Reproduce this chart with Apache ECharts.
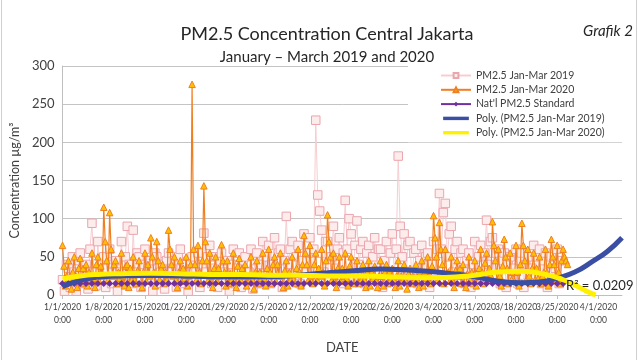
<!DOCTYPE html>
<html><head><meta charset="utf-8">
<script src="https://cdn.jsdelivr.net/npm/echarts@6/dist/echarts.min.js"></script>
<style>html,body{margin:0;padding:0;background:#fff}#c{width:640px;height:360px}</style>
</head><body><div id="c"></div>
<script>
// day 0 = 1/1/2020; 2020 readings every 6 hours, 2019 readings every 8 hours
const SLOTS_2020 = 4;
const SLOTS_2019 = 3;
const pm2020 = [
65,38,12,25, 45,20,8,30, 50,25,10,35, 48,15,35,20, 40,12,30,18, 55,22,10,40, 50,18,38,25, 115,70,45,20, 108,60,25,40, 45,15,30,22,
55,25,12,38, 40,10,35,20, 50,20,15,32, 45,28,10,30, 55,18,40,25, 75,50,30,12, 70,45,20,35, 40,15,30,20, 85,60,40,25, 50,20,10,30,
45,18,35,22, 50,12,25,40, 276,60,40,20, 65,30,15,45, 143,70,45,20, 55,25,10,35, 50,18,35,25, 66,45,30,12, 45,15,28,20, 55,25,10,38,
48,20,35,25, 40,12,25,18, 50,20,8,30, 45,15,30,22, 55,22,12,35, 60,30,15,40, 50,18,40,25, 55,25,10,32, 45,12,30,20, 50,20,15,35,
60,30,12,40, 78,55,40,20, 65,25,15,40, 55,20,35,25, 60,30,12,45, 105,70,50,20, 55,25,10,35, 50,18,35,25, 55,22,12,38, 50,30,15,28,
45,15,28,20, 40,20,10,30, 45,12,30,22, 38,18,10,25, 45,25,12,30, 40,15,30,20, 35,20,10,25, 45,12,25,18, 40,18,8,28, 35,15,25,20,
40,20,10,30, 45,12,30,22, 50,25,15,38, 104,75,50,20, 95,60,40,15, 60,25,30,18, 50,18,10,32, 45,25,35,15, 40,15,10,28, 50,20,30,15,
45,12,25,35, 60,30,15,42, 55,20,35,25, 96,65,45,20, 60,25,12,38, 73,50,35,15, 55,20,30,18, 65,30,12,40, 94,65,45,20, 60,25,15,35,
55,20,35,22, 50,15,25,30, 60,30,12,40, 73,50,40,20, 65,30,15,45, 60,50,45,40
];
const pm2019 = [
20,5,40, 35,10,50, 30,5,45, 55,15,30, 40,8,60, 94,30,12, 70,20,45, 50,10,35, 60,15,40, 45,5,30,
70,25,50, 90,40,15, 85,30,55, 50,10,40, 60,20,35, 45,5,55, 50,15,30, 40,8,45, 55,20,35, 45,10,50,
60,15,30, 40,5,45, 50,20,35, 55,10,40, 81,30,50, 65,15,35, 50,10,45, 55,20,30, 45,5,40, 60,15,35,
55,10,45, 50,20,30, 60,8,45, 55,15,40, 70,25,50, 65,15,40, 75,30,55, 60,10,45, 103,40,60, 70,20,50,
65,15,45, 80,30,55, 75,20,60, 229,131,110, 85,30,70, 70,20,50, 90,35,60, 75,15,55, 124,60,100, 80,25,65,
97,40,60, 70,15,55, 65,20,50, 75,30,60, 60,10,45, 70,25,55, 80,30,60, 182,90,50, 80,25,65, 70,20,55,
60,15,45, 65,20,50, 55,10,40, 70,25,60, 133,60,108, 120,50,80, 90,30,60, 70,20,55, 60,15,45, 55,10,40,
70,25,50, 65,20,55, 98,40,70, 75,25,55, 60,15,45, 55,10,40, 50,20,35, 60,15,45, 55,10,40, 50,20,35,
65,25,50, 60,15,45, 55,10,40, 50,20,35, 60,15,45
];
const STANDARD = 15;
const STANDARD_DAYS = 86;
const trend2019Days = [0, 2, 4, 7, 10, 15, 20, 25, 30, 35, 40, 45, 50, 54, 58, 62, 66, 70, 74, 78, 81, 84, 87, 90, 92.5, 95];
const trend2019Vals = [11, 17, 21, 24, 25, 25.5, 25, 24, 24, 24, 26, 29, 32, 34, 33, 31, 28, 24, 18, 16, 17, 22, 30, 44, 57, 75];
const trend2020Days = [0, 3, 6, 10, 15, 20, 25, 30, 35, 40, 45, 50, 55, 60, 65, 70, 74, 78, 82, 85, 87, 89, 90.5];
const trend2020Vals = [21, 25, 27, 28, 28.5, 28, 27, 27, 26, 26, 25, 25, 24, 23, 23, 26, 30, 31, 27, 20, 13, 5, 0];
const xTickDays = 7;
const yTicks = [0, 50, 100, 150, 200, 250, 300];

const FONT = 'Lato';
function dayLabel(v) {
  const d = new Date(Date.UTC(2020, 0, 1) + v * 86400000);
  return (d.getUTCMonth() + 1) + '/' + d.getUTCDate() + '/2020\n0:00';
}
const toPts = (vals, slots) => vals.map((v, i) => [i / slots, v]);
const stdPts = [];
for (let d = 0; d < STANDARD_DAYS; d++) stdPts.push([d, STANDARD]);
const thickIcon = 'path://M0,0 M0,1.5 L30,1.5 L30,5.5 L0,5.5 Z M30,7';

const chart = echarts.init(document.getElementById('c'));
chart.setOption({
  animation: false,
  textStyle: { fontFamily: FONT },
  title: [
    { text: 'PM2.5 Concentration Central Jakarta', left: 322, top: 20, textAlign: 'center',
      textStyle: { fontFamily: FONT, fontSize: 18, fontWeight: 'normal', color: '#262626' } },
    { text: 'January – March 2019 and 2020', left: 322, top: 45, textAlign: 'center',
      textStyle: { fontFamily: FONT, fontSize: 15, fontWeight: 'normal', color: '#262626' } },
    { text: 'Grafik 2', left: 603, top: 19, textAlign: 'center',
      textStyle: { fontFamily: FONT, fontSize: 15, fontStyle: 'italic', fontWeight: 'normal', color: '#262626' } }
  ],
  grid: { left: 60, right: 18, top: 66, bottom: 65 },
  legend: {
    orient: 'vertical', left: 408, top: 66,
    padding: [4, 30, 4, 32], itemGap: 3.3, itemWidth: 30, itemHeight: 6,
    backgroundColor: '#ffffff',
    textStyle: { fontFamily: FONT, fontSize: 10.5, color: '#404040' },
    data: ['PM2.5 Jan-Mar 2019', 'PM2.5 Jan-Mar 2020', "Nat'l PM2.5 Standard",
      { name: 'Poly. (PM2.5 Jan-Mar 2019)', icon: thickIcon },
      { name: 'Poly. (PM2.5 Jan-Mar 2020)', icon: thickIcon }]
  },
  xAxis: {
    type: 'value', min: 0, max: 95, interval: xTickDays,
    name: 'DATE', nameLocation: 'middle', nameGap: 46,
    nameTextStyle: { fontFamily: FONT, fontSize: 13, color: '#404040' },
    axisLine: { lineStyle: { color: '#bfbfbf' } },
    axisTick: { show: true, length: 4, lineStyle: { color: '#bfbfbf' } },
    splitLine: { show: false },
    axisLabel: { formatter: dayLabel, showMaxLabel: false, fontFamily: FONT, fontSize: 8.5, color: '#404040', lineHeight: 13, margin: 6 }
  },
  yAxis: {
    type: 'value', min: yTicks[0], max: yTicks[yTicks.length - 1], interval: 50,
    name: 'Concentration µg/m³', nameLocation: 'middle', nameGap: 38,
    nameTextStyle: { fontFamily: FONT, fontSize: 12.5, color: '#404040' },
    axisLine: { show: true, lineStyle: { color: '#bfbfbf' } },
    axisTick: { show: false },
    splitLine: { lineStyle: { color: '#c4c4c4' } },
    axisLabel: { fontFamily: FONT, fontSize: 13, color: '#404040', margin: 8 }
  },
  series: [
    { name: 'PM2.5 Jan-Mar 2019', type: 'line', data: toPts(pm2019, SLOTS_2019), z: 2,
      symbol: 'rect', symbolSize: 8.5,
      lineStyle: { color: '#f7cdd0', width: 1 },
      itemStyle: { color: '#fcecec', borderColor: '#eba5ad', borderWidth: 1 } },
    { name: 'PM2.5 Jan-Mar 2020', type: 'line', data: toPts(pm2020, SLOTS_2020), z: 3,
      symbol: 'triangle', symbolSize: 6.5,
      lineStyle: { color: '#f07f22', width: 1.2 },
      itemStyle: { color: '#ffc000', borderColor: '#f07f22', borderWidth: 1 } },
    { name: "Nat'l PM2.5 Standard", type: 'line', data: stdPts, z: 4,
      symbol: 'diamond', symbolSize: 7,
      lineStyle: { color: '#7030a0', width: 1 },
      itemStyle: { color: '#7030a0' } },
    { name: 'Poly. (PM2.5 Jan-Mar 2019)', type: 'line', smooth: true, showSymbol: false, symbol: 'none', z: 5,
      data: trend2019Days.map((d, i) => [d, trend2019Vals[i]]),
      lineStyle: { color: '#3a4ea3', width: 5 }, itemStyle: { color: '#3a4ea3' } },
    { name: 'Poly. (PM2.5 Jan-Mar 2020)', type: 'line', smooth: true, showSymbol: false, symbol: 'none', z: 6,
      data: trend2020Days.map((d, i) => [d, trend2020Vals[i]]),
      lineStyle: { color: '#fff000', width: 5 }, itemStyle: { color: '#fff000' } }
  ],
  graphic: [
    { type: 'text', left: 566, top: 279, z: 100,
      style: { text: 'R² = 0.0209', font: '13px ' + FONT, fill: '#262626' } },
    { type: 'line', shape: { x1: 1.5, y1: 0, x2: 1.5, y2: 360 }, style: { stroke: '#d0d0d0', lineWidth: 1 } },
    { type: 'line', shape: { x1: 636.5, y1: 0, x2: 636.5, y2: 360 }, style: { stroke: '#d0d0d0', lineWidth: 1 } }
  ]
});
</script></body></html>
